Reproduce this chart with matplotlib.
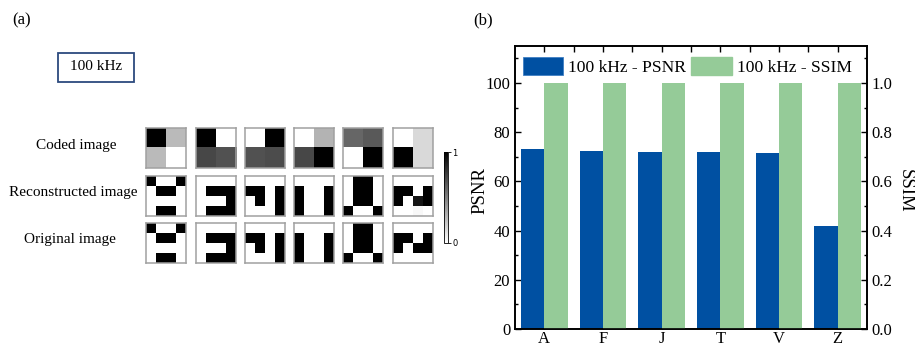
import numpy as np
import matplotlib
matplotlib.use('Agg')
import matplotlib.pyplot as plt
from matplotlib.patches import Patch, Rectangle

plt.rcParams['font.family'] = ['Liberation Serif', 'DejaVu Serif']

letters = ['A', 'F', 'J', 'T', 'V', 'Z']
psnr = [73.0, 72.3, 71.9, 71.9, 71.4, 41.8]
ssim = [1.0, 1.0, 1.0, 1.0, 1.0, 1.0]

# 2x2 coded patterns (1 = black)
coded = [
    [[1.0, 0.27], [0.27, 0.0]],
    [[1.0, 0.0], [0.72, 0.68]],
    [[0.0, 1.0], [0.68, 0.70]],
    [[0.0, 0.30], [0.72, 1.0]],
    [[0.60, 0.65], [0.0, 1.0]],
    [[0.0, 0.15], [1.0, 0.15]],
]

# 4x4 original patterns
original = [
    [[1, 0, 0, 1], [0, 1, 1, 0], [0, 0, 0, 0], [0, 1, 1, 0]],
    [[0, 0, 0, 0], [0, 1, 1, 1], [0, 0, 0, 1], [0, 1, 1, 1]],
    [[0, 0, 0, 0], [1, 1, 0, 1], [0, 1, 0, 1], [0, 0, 0, 1]],
    [[0, 0, 0, 0], [1, 0, 0, 1], [1, 0, 0, 1], [1, 0, 0, 1]],
    [[0, 1, 1, 0], [0, 1, 1, 0], [0, 1, 1, 0], [1, 0, 0, 1]],
    [[0, 0, 0, 0], [1, 1, 0, 1], [1, 0, 1, 1], [0, 0, 0, 0]],
]

reconstructed = [
    [[1, 0, 0, 1], [0, 1, 1, 0], [0, 0, 0, 0], [0, 1, 1, 0]],
    [[0, 0, 0, 0], [0, 1, 1, 1], [0, 0, 0, 1], [0, 1, 1, 1]],
    [[0, 0, 0, 0], [1, 1, 0, 1], [0, 1, 0, 1], [0, 0, 0, 1]],
    [[0, 0, 0, 0], [1, 0, 0, 1], [1, 0, 0, 1], [1, 0, 0, 1]],
    [[0, 1, 1, 0], [0, 1, 1, 0], [0, 1, 1, 0], [1, 0, 0, 1]],
    [[0, 0, 0, 0], [1, 1, 0, 1], [1, 0, 0.92, 1], [0, 0, 0.03, 0]],
]

row_labels = ['Coded image', 'Reconstructed image', 'Original image']

W, H = 915, 350
fig = plt.figure(figsize=(W / 100, H / 100), dpi=100)


def px_axes(x0, y0, w, h):
    # pixel box (top-left origin) -> figure axes
    return fig.add_axes([x0 / W, 1 - (y0 + h) / H, w / W, h / H])


# ---- panel (a) ----
fig.text(12 / W, 1 - 20 / H, '(a)', fontsize=12, va='center', ha='left')
fig.patches.append(Rectangle((58 / W, 1 - 82 / H), 76 / W, 29 / H,
                             transform=fig.transFigure, fc='white',
                             ec='#2c4a7e', lw=1.3))
fig.text(96 / W, 1 - 67 / H, '100 kHz', fontsize=11, va='center', ha='center')

col_x = [146, 196, 245, 294, 343, 393]
row_y = [128, 176, 223]
label_y = [145, 193, 239]
label_x = [76, 73, 70]
for lab, lx, ly in zip(row_labels, label_x, label_y):
    fig.text(lx / W, 1 - ly / H, lab, fontsize=11, ha='center', va='center')

for r, imgs in enumerate([coded, reconstructed, original]):
    for c, img in enumerate(imgs):
        a = px_axes(col_x[c], row_y[r], 40, 40)
        a.imshow(np.array(img, dtype=float), cmap='gray_r', vmin=0, vmax=1,
                 interpolation='nearest')
        a.set_xticks([])
        a.set_yticks([])
        for s in a.spines.values():
            s.set_color('#a0a0a0')
            s.set_linewidth(1.1)

cax = px_axes(444, 152, 4, 91)
sm = plt.cm.ScalarMappable(cmap='gray_r', norm=plt.Normalize(0, 1))
cb = fig.colorbar(sm, cax=cax, ticks=[0, 1])
cb.outline.set_linewidth(0.6)
cax.tick_params(labelsize=6, length=2, width=0.6, pad=1)
for t in cax.get_yticklabels():
    t.set_fontfamily('DejaVu Sans')

# ---- panel (b) ----
fig.text(473 / W, 1 - 20 / H, '(b)', fontsize=12, va='center', ha='left')

blue = '#0050a2'
green = '#95cb98'
ax = px_axes(515, 46, 352, 283)
x = np.arange(len(letters))
w = 0.4
ax.bar(x - w / 2, psnr, w, color=blue, zorder=2)
ax.set_xlim(-0.5, len(letters) - 0.5)
ax.set_ylim(0, 115)
ax.set_yticks([0, 20, 40, 60, 80, 100])
ax.set_yticks(np.arange(10, 115, 20), minor=True)
ax.set_xticks(x)
ax.set_xticklabels(letters)
ax.set_xticks(x[:-1] + 0.5, minor=True)
ax.set_ylabel('PSNR', fontsize=13.5, va='center')
ax.yaxis.set_label_coords(-0.1, 0.49)

ax2 = ax.twinx()
ax2.bar(x + w / 2, ssim, w, color=green, zorder=2)
ax2.set_ylim(0, 1.15)
ax2.set_yticks([0, 0.2, 0.4, 0.6, 0.8, 1.0])
ax2.set_yticklabels(['0.0', '0.2', '0.4', '0.6', '0.8', '1.0'])
ax2.set_yticks(np.arange(0.1, 1.15, 0.2), minor=True)
ax2.set_ylabel('SSIM', fontsize=13.5, rotation=270, va='center')
ax2.yaxis.set_label_coords(1.108, 0.49)

ax.tick_params(axis='both', which='major', direction='in', labelsize=12,
               length=4, width=1, top=True, bottom=True)
ax.tick_params(axis='y', which='minor', direction='in', length=2.5, width=1)
ax.tick_params(axis='x', which='minor', direction='in', length=4, width=1,
               bottom=False, top=True)
ax.tick_params(axis='x', which='major', pad=1.5)
ax2.tick_params(axis='y', which='major', direction='in', labelsize=12,
                length=4, width=1)
ax2.tick_params(axis='y', which='minor', direction='in', length=2.5, width=1)
for a in (ax, ax2):
    for s in a.spines.values():
        s.set_linewidth(1.2)

handles = [Patch(facecolor=blue, edgecolor='#3f7fc4', lw=0.6),
           Patch(facecolor=green, edgecolor=green)]
ax2.legend(handles, ['100 kHz - PSNR', '100 kHz - SSIM'], ncol=2,
           loc='upper left', bbox_to_anchor=(0.012, 0.975), frameon=False,
           fontsize=12.6, handlelength=2.3, handleheight=1.25,
           handletextpad=0.3, columnspacing=0.3, borderaxespad=0.1,
           borderpad=0.1)

fig.savefig('out.png', dpi=100)
